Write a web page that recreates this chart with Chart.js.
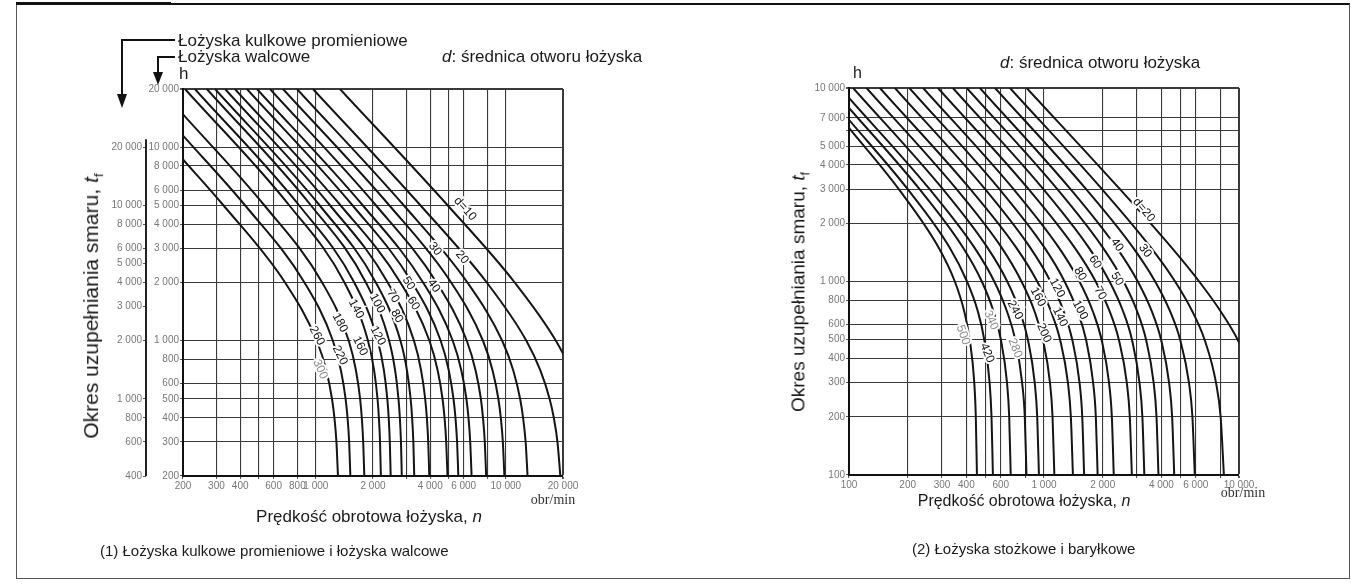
<!DOCTYPE html>
<html>
<head>
<meta charset="utf-8">
<script src="https://cdn.jsdelivr.net/npm/chart.js@4.4.1/dist/chart.umd.min.js"></script>
<style>
  body { margin:0; background:#fff; width:1363px; height:584px; position:relative; overflow:hidden;
         font-family:"Liberation Sans", Arial, sans-serif; color:#1a1a1a; }
  .frame { position:absolute; left:16px; top:3px; width:1332px; height:573px; border:1px solid #555; border-top:2px solid #111; }
  .bar { position:absolute; left:16px; top:2px; width:155px; height:3px; background:#111; }
  canvas { position:absolute; top:0; }
  .t { position:absolute; white-space:nowrap; line-height:1; }
  .mid { transform:translate(-50%,-50%); }
  .lv { transform:translateY(-50%); }
  .rot { transform:translate(-50%,-50%) rotate(-90deg); }
  sub { font-size:0.65em; }
  .unit { font-family:"Liberation Serif", serif; font-size:14px; color:#333; }
</style>
</head>
<body>
<div class="frame"></div>
<div class="bar"></div>
<canvas id="c1" width="700" height="584" style="left:0"></canvas>
<canvas id="c2" width="663" height="584" style="left:700px"></canvas>

<div class="t lv" style="left:178px;top:40px;font-size:17px">Łożyska kulkowe promieniowe</div>
<div class="t lv" style="left:178px;top:56px;font-size:17px">Łożyska walcowe</div>
<div class="t lv" style="left:179px;top:73px;font-size:17px">h</div>
<div class="t lv" style="left:442px;top:56px;font-size:17px"><i>d</i>: średnica otworu łożyska</div>
<div class="t rot" style="left:93px;top:306px;font-size:21px">Okres uzupełniania smaru, <i>t</i><sub>f</sub></div>
<div class="t mid" style="left:369px;top:516px;font-size:17px">Prędkość obrotowa łożyska, <i>n</i></div>
<div class="t mid unit" style="left:553px;top:500px">obr/min</div>
<div class="t lv" style="left:100px;top:550px;font-size:15px">(1) Łożyska kulkowe promieniowe i łożyska walcowe</div>

<div class="t lv" style="left:853px;top:73px;font-size:16px">h</div>
<div class="t lv" style="left:1000px;top:62px;font-size:17px"><i>d</i>: średnica otworu łożyska</div>
<div class="t rot" style="left:800px;top:292px;font-size:19px">Okres uzupełniania smaru, <i>t</i><sub>f</sub></div>
<div class="t mid" style="left:1024px;top:501px;font-size:16px">Prędkość obrotowa łożyska, <i>n</i></div>
<div class="t mid unit" style="left:1243px;top:493px">obr/min</div>
<div class="t lv" style="left:912px;top:548px;font-size:15px">(2) Łożyska stożkowe i baryłkowe</div>

<script>
// ---- chart (1): ball and cylindrical roller bearings ----
const leftDiam = [10, 20, 30, 40, 50, 60, 70, 80, 100, 120, 140, 160, 180, 220, 260, 300];
// [speed n (obr/min), interval (h, cylindrical scale)]
const leftCurves = [
  [[1340,20000],[4950,5000],[11140,2000],[18350,1000],[22060,700],[24940,500]],
  [[966,20000],[3560,5000],[7940,2000],[12830,1000],[15220,700],[17010,500],[17890,400],[18700,300],[19370,200]],
  [[796,20000],[2909,5000],[6280,2000],[9573,1000],[10960,700],[11900,500],[12330,400],[12715,300],[13020,200]],
  [[672,20000],[2441,5000],[5155,2000],[7584,1000],[8528,700],[9140,500],[9411,400],[9648,300],[9831,200]],
  [[574,20000],[2076,5000],[4324,2000],[6233,1000],[6940,700],[7395,500],[7583,400],[7751,300],[7883,200]],
  [[490,20000],[1770,5000],[3670,2000],[5258,1000],[5840,700],[6204,500],[6361,400],[6498,300],[6605,200]],
  [[434,20000],[1563,5000],[3210,2000],[4542,1000],[5015,700],[5306,500],[5433,400],[5541,300],[5625,200]],
  [[375,20000],[1352,5000],[2787,2000],[3963,1000],[4383,700],[4646,500],[4759,400],[4857,300],[4932,200]],
  [[333,20000],[1190,5000],[2390,2000],[3287,1000],[3585,700],[3765,500],[3841,400],[3906,300],[3956,200]],
  [[295,20000],[1049,5000],[2069,2000],[2790,1000],[3020,700],[3156,500],[3213,400],[3261,300],[3297,200]],
  [[267,20000],[944,5000],[1834,2000],[2432,1000],[2616,700],[2724,500],[2769,400],[2807,300],[2835,200]],
  [[231,20000],[818,5000],[1593,2000],[2120,1000],[2284,700],[2379,500],[2419,400],[2452,300],[2478,200]],
  [[205,20000],[726,5000],[1415,2000],[1882,1000],[2028,700],[2113,500],[2148,400],[2178,300],[2200,200]],
  [[200,14790],[537,5000],[1080,2000],[1491,1000],[1628,700],[1711,500],[1746,400],[1776,300],[1800,200]],
  [[200,11490],[425,5000],[871,2000],[1230,1000],[1357,700],[1435,500],[1469,400],[1498,300],[1520,200]],
  [[200,8650],[327,5000],[689,2000],[1012,1000],[1137,700],[1217,500],[1253,400],[1284,300],[1308,200]]
];
const leftLabelText = ['d=10','20','30','40','50','60','70','80','100','120','140','160','180','220','260','300'];
const leftLabelN = [6100, 5880, 4240, 4180, 3080, 3260, 2550, 2670, 2100, 2120, 1630, 1710, 1340, 1340, 1014, 1054];
const leftLabelH = [4800, 2700, 2980, 1920, 1980, 1560, 1700, 1340, 1560, 1060, 1460, 940, 1240, 840, 1060, 712];
const leftLabelAngle = [48, 50, 52, 55, 58, 58, 60, 60, 62, 62, 62, 64, 62, 64, 62, 66];
const leftGrayLabels = ['300'];

const leftXGrid = [200,300,400,500,600,800,1000,2000,3000,4000,5000,6000,8000,10000,20000];
const leftXTicks = [200,300,400,600,800,1000,2000,4000,6000,10000,20000];
const leftYGrid = [200,300,400,500,600,800,1000,2000,3000,4000,5000,6000,8000,10000,20000];
const leftYOuterTicks = [400,600,800,1000,2000,3000,4000,5000,6000,8000,10000,20000];

// ---- chart (2): tapered and spherical roller bearings ----
const rightDiam = [20, 30, 40, 50, 60, 70, 80, 100, 120, 140, 160, 200, 240, 280, 340, 420, 500];
const rightCurves = [
  [[815,10000],[2451,3000],[4503,1500],[6248,1000],[8061,700],[9849,500],[12201,300]],
  [[669,10000],[1984,3000],[3527,1500],[4702,1000],[5766,700],[6660,500],[7621,300],[8049,200],[8367,100]],
  [[561,10000],[1644,3000],[2857,1500],[3715,1000],[4434,700],[4990,500],[5539,300],[5769,200],[5933,100]],
  [[469,10000],[1368,3000],[2352,1500],[3026,1000],[3573,700],[3984,500],[4379,300],[4540,200],[4654,100]],
  [[402,10000],[1170,3000],[2000,1500],[2559,1000],[3005,700],[3337,500],[3649,300],[3775,200],[3864,100]],
  [[341,10000],[992,3000],[1694,1500],[2168,1000],[2546,700],[2825,500],[3088,300],[3195,200],[3270,100]],
  [[286,10000],[834,3000],[1433,1500],[1841,1000],[2172,700],[2420,500],[2658,300],[2754,200],[2822,100]],
  [[240,10000],[698,3000],[1190,1500],[1520,1000],[1781,700],[1974,500],[2155,300],[2228,200],[2279,100]],
  [[204,10000],[591,3000],[1004,1500],[1275,1000],[1488,700],[1643,500],[1786,300],[1844,200],[1884,100]],
  [[172,10000],[499,3000],[848,1500],[1080,1000],[1263,700],[1396,500],[1521,300],[1571,200],[1606,100]],
  [[144,10000],[419,3000],[719,1500],[923,1000],[1087,700],[1209,500],[1326,300],[1373,200],[1407,100]],
  [[123,10000],[356,3000],[605,1500],[767,1000],[895,700],[987,500],[1073,300],[1106,200],[1130,100]],
  [[105,10000],[303,3000],[512,1500],[648,1000],[752,700],[827,500],[896,300],[923,200],[942,100]],
  [[100,8880],[259,3000],[439,1500],[556,1000],[646,700],[712,500],[772,300],[797,200],[813,100]],
  [[100,7890],[230,3000],[384,1500],[480,1000],[551,700],[601,500],[646,300],[663,200],[675,100]],
  [[100,6850],[200,3000],[328,1500],[403,1000],[458,700],[494,500],[526,300],[538,200],[547,100]],
  [[100,6220],[180,3000],[288,1500],[349,1000],[390,700],[416,500],[439,300],[447,200],[453,100]]
];
const rightLabelText = ['d=20','30','40','50','60','70','80','100','120','140','160','200','240','280','340','420','500'];
const rightLabelN = [3250, 3300, 2370, 2370, 1830, 1940, 1530, 1530, 1166, 1208, 931, 1000, 710, 710, 535, 510, 384];
const rightLabelH = [2340, 1440, 1545, 1030, 1260, 872, 1094, 713, 925, 655, 832, 542, 713, 453, 631, 427, 529];
const rightLabelAngle = [50, 55, 55, 58, 58, 60, 60, 62, 62, 64, 62, 66, 62, 68, 66, 68, 70];
const rightGrayLabels = ['280', '340', '500'];

const rightXGrid = [100,200,300,400,500,600,800,1000,2000,3000,4000,5000,6000,8000,10000];
const rightXTicks = [100,200,300,400,600,1000,2000,4000,6000,10000];
const rightYGrid = [100,200,300,400,500,600,800,1000,2000,3000,4000,5000,6000,7000,10000];
const rightYTicks = [100,200,300,400,500,600,800,1000,2000,3000,4000,5000,7000,10000];

const fmt = v => v >= 1000 ? String(v).replace(/(\d)(?=(\d{3})+$)/g, '$1 ') : String(v);
const tickFont = { family: '"Liberation Sans Narrow", "Liberation Sans", sans-serif', size: 10 };

function logAxis(min, max, grid, labels, extra) {
  return Object.assign({
    type: 'logarithmic', min: min, max: max,
    afterBuildTicks: s => { s.ticks = grid.map(v => ({ value: v })); },
    ticks: { autoSkip: false, maxRotation: 0, color: '#777', font: tickFont, padding: 1,
             callback: v => labels.includes(v) ? fmt(v) : '' },
    grid: { color: '#3a3a3a', tickColor: '#555', tickLength: 3,
            lineWidth: c => (c.tick && c.tick.value === max) ? 2 : 1.1 },
    border: { color: '#111', width: 2 }
  }, extra);
}

function curveLabels(text, n, h, angle, gray) {
  return {
    id: 'curveLabels',
    afterDatasetsDraw(chart) {
      const ctx = chart.ctx, x = chart.scales.x, y = chart.scales.y;
      ctx.save();
      ctx.font = '12px "Liberation Sans", Arial, sans-serif';
      ctx.textAlign = 'center';
      ctx.textBaseline = 'middle';
      text.forEach((t, i) => {
        ctx.save();
        ctx.translate(x.getPixelForValue(n[i]), y.getPixelForValue(h[i]));
        ctx.rotate(angle[i] * Math.PI / 180);
        ctx.lineWidth = 4;
        ctx.strokeStyle = '#fff';
        ctx.strokeText(t, 0, 0);
        ctx.fillStyle = gray.includes(t) ? '#8a8a8a' : '#111';
        ctx.fillText(t, 0, 0);
        ctx.restore();
      });
      ctx.restore();
    }
  };
}

function datasetsFrom(curves) {
  return curves.map(c => ({
    data: c.map(p => ({ x: p[0], y: p[1] })),
    borderColor: '#151515', borderWidth: 2, pointRadius: 0,
    cubicInterpolationMode: 'monotone', fill: false
  }));
}

// outer (ball bearing) axis line and the two pointer arrows
const leftDecor = {
  id: 'leftDecor',
  afterDraw(chart) {
    const ctx = chart.ctx, o = chart.scales.yOuter;
    ctx.save();
    ctx.strokeStyle = '#222';
    ctx.lineWidth = 2;
    ctx.beginPath();
    ctx.moveTo(o.right, o.getPixelForValue(20000) - 8);
    ctx.lineTo(o.right, o.bottom);
    ctx.stroke();

    ctx.strokeStyle = '#111';
    ctx.fillStyle = '#111';
    ctx.lineWidth = 2;
    ctx.beginPath();
    ctx.moveTo(175, 40); ctx.lineTo(122, 40); ctx.lineTo(122, 95);
    ctx.moveTo(175, 57); ctx.lineTo(158, 57); ctx.lineTo(158, 73);
    ctx.stroke();
    [[122, 108, 94], [158, 85, 72]].forEach(a => {
      ctx.beginPath();
      ctx.moveTo(a[0], a[1]); ctx.lineTo(a[0] - 5, a[2]); ctx.lineTo(a[0] + 5, a[2]);
      ctx.closePath(); ctx.fill();
    });
    ctx.restore();
  }
};

const common = {
  responsive: false, animation: false, events: [],
  plugins: { legend: { display: false }, tooltip: { enabled: false } }
};

new Chart(document.getElementById('c1'), {
  type: 'line',
  data: { datasets: datasetsFrom(leftCurves) },
  options: Object.assign({}, common, {
    layout: { padding: { left: 96, right: 137, top: 89, bottom: 78 } },
    scales: {
      x: logAxis(200, 20000, leftXGrid, leftXTicks, { position: 'bottom', afterFit: s => { s.height = 30; } }),
      y: logAxis(200, 20000, leftYGrid, leftYGrid, { position: 'left', weight: 0, afterFit: s => { s.width = 37; } }),
      yOuter: logAxis(400, 40000, leftYOuterTicks, leftYOuterTicks, {
        position: 'left', weight: 1, afterFit: s => { s.width = 50; },
        grid: { drawOnChartArea: false, tickColor: '#555', tickLength: 3 },
        border: { display: false }
      })
    }
  }),
  plugins: [curveLabels(leftLabelText, leftLabelN, leftLabelH, leftLabelAngle, leftGrayLabels), leftDecor]
});

new Chart(document.getElementById('c2'), {
  type: 'line',
  data: { datasets: datasetsFrom(rightCurves) },
  options: Object.assign({}, common, {
    layout: { padding: { left: 109, right: 124, top: 88, bottom: 79 } },
    scales: {
      x: logAxis(100, 10000, rightXGrid, rightXTicks, { position: 'bottom', afterFit: s => { s.height = 30; } }),
      y: logAxis(100, 10000, rightYGrid, rightYTicks, { position: 'left', afterFit: s => { s.width = 40; } })
    }
  }),
  plugins: [curveLabels(rightLabelText, rightLabelN, rightLabelH, rightLabelAngle, rightGrayLabels)]
});
</script>
</body>
</html>
